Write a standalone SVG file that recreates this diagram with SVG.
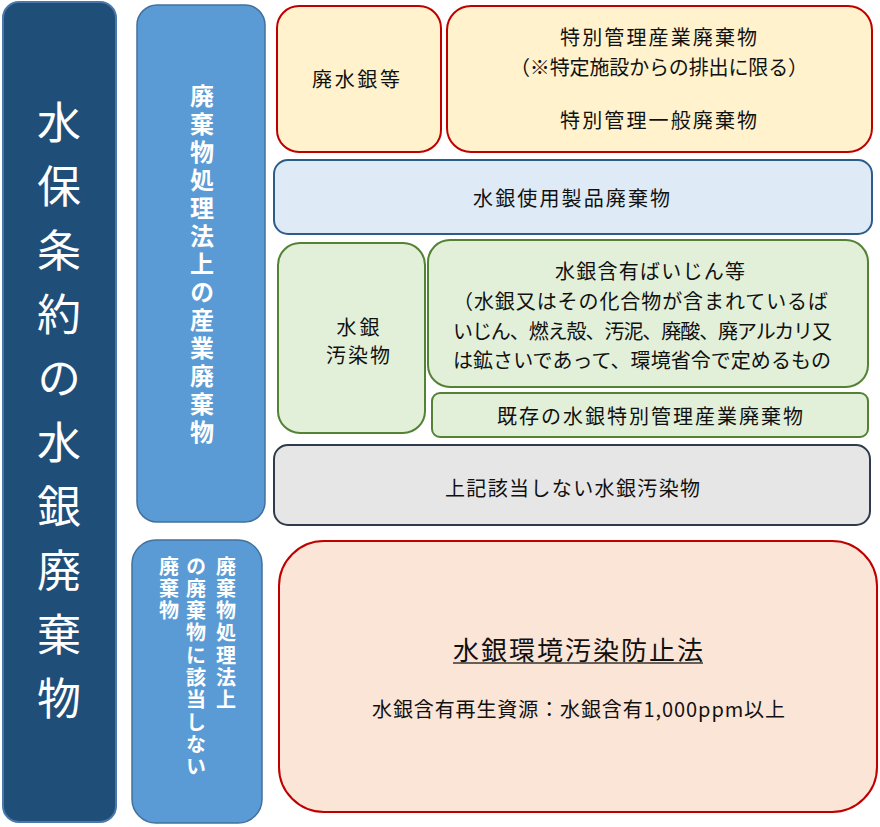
<svg xmlns="http://www.w3.org/2000/svg" width="880" height="827" viewBox="0 0 880 827">
<style>
text{font-family:"Noto Sans CJK JP","Noto Sans",sans-serif;dominant-baseline:central;}
.t{font-size:20px;fill:#111;text-anchor:middle;}
.tl{font-size:20px;fill:#111;text-anchor:start;}
.vw{fill:#fff;font-weight:bold;writing-mode:vertical-rl;text-anchor:start;}
.red{fill:#FFF2CC;stroke:#C00000;stroke-width:2;}
.grn{fill:#E2F0D9;stroke:#548235;stroke-width:2;}
.blu{fill:#5B9BD5;stroke:#41719C;stroke-width:1.5;}
</style>
<rect width="880" height="827" fill="#fff"/>
<g id="minamata">
<rect x="3" y="2" width="113" height="820" rx="16" fill="#1F4E79" stroke="#4A78AA" stroke-width="2"/>
<text x="59" y="100" style="font-size:44px;fill:#fff;writing-mode:vertical-rl;letter-spacing:20px;">水保条約の水銀廃棄物</text>
</g>
<g id="industrial">
<rect x="137" y="5" width="128" height="517" rx="20" class="blu"/>
<text x="202" y="84" class="vw" style="font-size:24px;letter-spacing:4px;">廃棄物処理法上の産業廃棄物</text>
</g>
<g id="not-waste">
<rect x="132" y="540" width="130" height="283" rx="24" class="blu"/>
<text x="226" y="556" class="vw" style="font-size:20px;letter-spacing:2.3px;">廃棄物処理法上</text>
<text x="196" y="556" class="vw" style="font-size:20px;letter-spacing:2.3px;">の廃棄物に該当しない</text>
<text x="169" y="556" class="vw" style="font-size:20px;letter-spacing:2.3px;">廃棄物</text>
</g>
<g id="haisuigin">
<rect x="277" y="6" width="164" height="146" rx="22" class="red"/>
<text x="356" y="78" class="t" textLength="88" lengthAdjust="spacing">廃水銀等</text>
</g>
<g id="tokubetsu">
<rect x="447" y="6" width="425" height="146" rx="24" class="red"/>
<text x="658.5" y="36" class="t" textLength="197" lengthAdjust="spacing">特別管理産業廃棄物</text>
<text x="659" y="66" class="t" textLength="298" lengthAdjust="spacing">（※特定施設からの排出に限る）</text>
<text x="658.5" y="119" class="t" textLength="197" lengthAdjust="spacing">特別管理一般廃棄物</text>
</g>
<g id="products">
<rect x="274" y="160" width="598" height="74" rx="14" fill="#DEEBF7" stroke="#2E5C8A" stroke-width="2"/>
<text x="571.5" y="197" class="t" textLength="197" lengthAdjust="spacing">水銀使用製品廃棄物</text>
</g>
<g id="contaminated">
<rect x="278" y="243" width="147" height="190" rx="22" class="grn"/>
<text x="358" y="326" class="t" textLength="43" lengthAdjust="spacing">水銀</text>
<text x="358" y="354" class="t" textLength="64" lengthAdjust="spacing">汚染物</text>
</g>
<g id="baijin">
<rect x="428" y="240" width="440" height="147" rx="22" class="grn"/>
<text x="650" y="270" class="t" textLength="190" lengthAdjust="spacing">水銀含有ばいじん等</text>
<text x="453" y="300" class="tl" textLength="375" lengthAdjust="spacing">（水銀又はその化合物が含まれているば</text>
<text x="453" y="330" class="tl" textLength="379" lengthAdjust="spacing">いじん、燃え殻、汚泥、廃酸、廃アルカリ又</text>
<text x="453" y="359" class="tl" textLength="378" lengthAdjust="spacing">は鉱さいであって、環境省令で定めるもの</text>
</g>
<g id="existing">
<rect x="432" y="393" width="436" height="44" rx="8" class="grn"/>
<text x="650" y="415" class="t" textLength="306" lengthAdjust="spacing">既存の水銀特別管理産業廃棄物</text>
</g>
<g id="other">
<rect x="274" y="445" width="596" height="80" rx="14" fill="#E7E6E6" stroke="#2F3B4C" stroke-width="2"/>
<text x="572.5" y="487" class="t" textLength="255" lengthAdjust="spacing">上記該当しない水銀汚染物</text>
</g>
<g id="law">
<rect x="279" y="541" width="598" height="271" rx="45" fill="#FBE5D6" stroke="#C00000" stroke-width="2"/>
<text x="578" y="648" class="t" style="font-size:26px;" textLength="250" lengthAdjust="spacing">水銀環境汚染防止法</text>
<line x1="453" y1="663" x2="703" y2="663" stroke="#333" stroke-width="1.5"/>
<text x="578.5" y="708" class="t" textLength="413" lengthAdjust="spacing">水銀含有再生資源：水銀含有1,000ppm以上</text>
</g>
</svg>
